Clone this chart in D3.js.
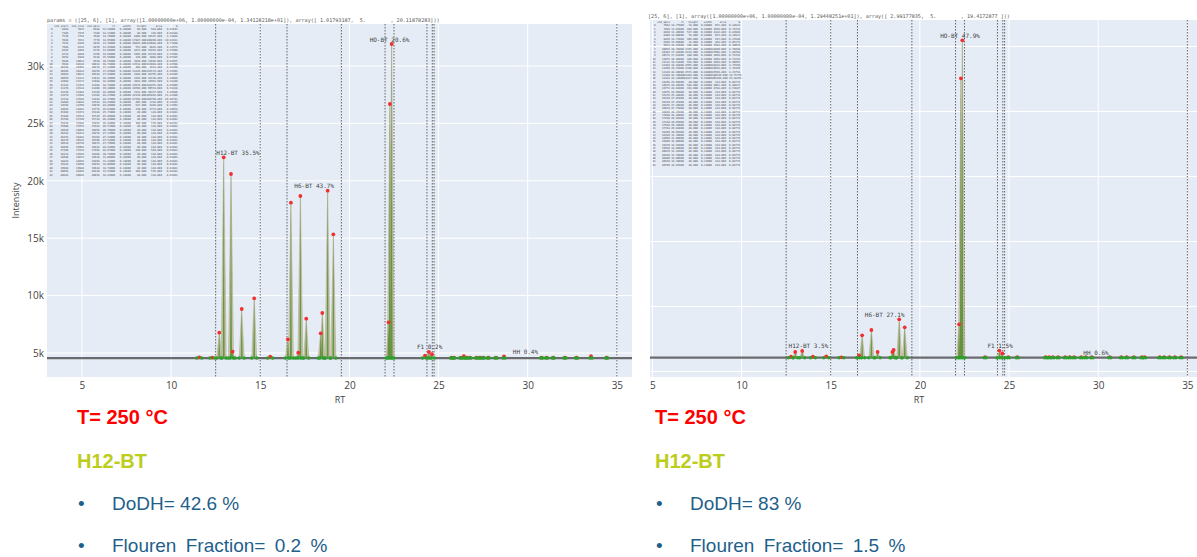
<!DOCTYPE html>
<html><head><meta charset="utf-8">
<script src="https://cdn.jsdelivr.net/npm/d3@7"></script>
<style>html,body{margin:0;padding:0;background:#fff;} svg{display:block;}</style>
</head><body>
<svg id="fig" width="1197" height="557"></svg>
<script>
// ---------- chromatogram data ----------
const rtTicks = [5, 10, 15, 20, 25, 30, 35];
const intensityTicks = [5000, 10000, 15000, 20000, 25000, 30000];
const intensityTickLabels = ["5k", "10k", "15k", "20k", "25k", "30k"];
const cutLines = [12.5, 15.0, 16.5, 19.55, 22.0, 22.5, 24.35, 24.65, 24.75, 35.0];
const groupNames = ["H12-BT", "H6-BT", "HO-BT", "F1", "HH"];
const groupFrom = [12.5, 16.5, 22.0, 24.35, 24.75];
const groupTo = [15.0, 19.55, 22.5, 24.65, 35.0];

// run A
const paramsA = "params = ([25, 6], [1], array([1.00000000e+06, 1.00000000e-04, 1.34128218e+01]), array([ 1.01793187,  5.        , 20.11878283]))";
const groupPctA = [35.5, 43.7, 20.6, 0.2, 0.4];
const baselineA = 4560;
const peakRtA = [11.58, 12.31, 12.70, 12.95, 13.36, 13.45, 13.96, 14.66, 15.56, 16.55, 16.72, 17.13, 17.25, 17.58,
  18.39, 18.48, 18.78, 19.10, 22.20, 22.27, 22.37, 24.24, 24.46, 24.63];
const peakHeightA = [4620, 4600, 6768, 22047, 20592, 5113, 8833, 9765, 4680, 6190, 18092, 5026, 18676, 7988,
  6716, 8484, 19138, 15340, 7674, 26690, 31916, 4765, 5087, 4890];
const tailRtA = [25.73, 25.86, 26.24, 26.42, 26.57, 26.76, 27.13, 27.32, 27.51, 27.79, 28.22, 28.67,
  30.78, 31.06, 31.43, 32.09, 32.74, 33.55, 34.43];
const tailHeightA = [4600, 4600, 4600, 4720, 4600, 4600, 4600, 4600, 4600, 4600, 4600, 4700,
  4600, 4600, 4600, 4600, 4600, 4720, 4600];

// run B
const paramsB = "[25, 6], [1], array([1.00000000e+06, 1.00000000e-04, 1.29448251e+01]), array([ 2.99177835,  5.        , 19.4172877 ]))";
const groupPctB = [3.5, 27.1, 47.9, 1.5, 0.6];
const baselineB = 6060;
const peakRtB = [12.77, 13.01, 13.40, 14.00, 14.75, 15.60, 16.59, 16.76, 17.28, 17.63, 18.46, 18.53, 18.84, 19.15,
  22.20, 22.30, 22.38, 24.46, 24.62];
const peakHeightB = [6138, 6500, 6577, 6138, 6169, 6092, 6246, 7785, 8192, 6500, 6500, 6654, 9015, 8400,
  8631, 27554, 30477, 6608, 6392];
const tailRtB = [23.66, 24.96, 25.46, 27.05, 27.25, 27.46, 27.75, 28.15, 28.40, 28.65, 29.05, 29.30, 29.64,
  30.65, 31.30, 31.60, 32.00, 32.45, 32.60, 33.45, 33.70, 34.00, 34.30, 34.65];
const tailHeightB = [6100, 6100, 6100, 6100, 6100, 6100, 6100, 6100, 6100, 6100, 6100, 6100, 6100,
  6100, 6100, 6100, 6100, 6100, 6100, 6100, 6100, 6100, 6100, 6100];

// summary text under each chromatogram
const tempLine = "T= 250 °C";
const sampleName = "H12-BT";
const dodhA = "DoDH= 42.6 %", dodhB = "DoDH= 83 %";
const flourenA = "Flouren Fraction= 0.2 %", flourenB = "Flouren Fraction= 1.5 %";

// ---------- drawing ----------
const svg = d3.select("#fig");
const MONO = "'DejaVu Sans Mono', 'Liberation Mono', monospace";
const SANS = "'Open Sans', 'Liberation Sans', Arial, sans-serif";
const ARIAL = "'Liberation Sans', Arial, sans-serif";

function panel(cfg) {
  const g = svg.append("g");
  const x = d3.scaleLinear().domain(cfg.xDomain).range([cfg.left, cfg.right]);
  const y = d3.scaleLinear().domain(cfg.yDomain).range([cfg.bottom, cfg.top]);

  // plot background + grid
  g.append("rect").attr("x", cfg.left).attr("y", cfg.top)
    .attr("width", cfg.right - cfg.left).attr("height", cfg.bottom - cfg.top).attr("fill", "#e5ecf6");
  const clipId = "clip" + cfg.id;
  g.append("clipPath").attr("id", clipId).append("rect")
    .attr("x", cfg.left).attr("y", cfg.top).attr("width", cfg.right - cfg.left).attr("height", cfg.bottom - cfg.top);
  const pg = g.append("g").attr("clip-path", `url(#${clipId})`);

  pg.selectAll(".vg").data(rtTicks).join("line")
    .attr("x1", d => x(d)).attr("x2", d => x(d)).attr("y1", cfg.top).attr("y2", cfg.bottom)
    .attr("stroke", "#fff").attr("stroke-width", 1);
  pg.selectAll(".hg").data(intensityTicks).join("line")
    .attr("x1", cfg.left).attr("x2", cfg.right).attr("y1", d => y(d)).attr("y2", d => y(d))
    .attr("stroke", "#fff").attr("stroke-width", 1);

  // x axis
  const xa = d3.axisBottom(x).tickValues(rtTicks).tickSize(0).tickPadding(0).tickFormat(d3.format("d"));
  const xg = g.append("g").attr("transform", `translate(0,${cfg.bottom + 12})`).call(xa);
  xg.select(".domain").remove();
  xg.selectAll("text").attr("font-family", SANS).attr("font-size", 10).attr("fill", "#444").attr("dy", "0");
  g.append("text").attr("x", cfg.rtLabelX).attr("y", cfg.bottom + 26)
    .attr("text-anchor", "middle").attr("font-family", SANS).attr("font-size", 9).attr("fill", "#444").text("RT");

  if (cfg.yAxis) {
    const ya = d3.axisLeft(y).tickValues(intensityTicks).tickSize(0).tickPadding(3)
      .tickFormat((d, i) => intensityTickLabels[i]);
    const yg = g.append("g").attr("transform", `translate(${cfg.left},0)`).call(ya);
    yg.select(".domain").remove();
    yg.selectAll("text").attr("font-family", SANS).attr("font-size", 10).attr("fill", "#444");
    g.append("text").attr("transform", `translate(19,${(cfg.top + cfg.bottom) / 2}) rotate(-90)`)
      .attr("text-anchor", "middle").attr("font-family", SANS).attr("font-size", 9).attr("fill", "#444").text("Intensity");
  }

  // fit parameters printed above the plot
  g.append("text").attr("x", cfg.paramsX).attr("y", cfg.paramsY)
    .attr("font-family", MONO).attr("font-size", 5.1).attr("fill", "#555").attr("xml:space", "preserve")
    .style("white-space", "pre").text(cfg.params);

  // peaks
  const peaks = cfg.rt.map((r, i) => ({ rt: r, h: cfg.h[i], hw: 0.14 }))
    .concat(cfg.tailRt.map((r, i) => ({ rt: r, h: cfg.tailH[i], hw: 0.06 })));
  const B = cfg.base;

  // peak table in the upper left corner of the plot
  const total = d3.sum(peaks, p => (p.h - B) * p.hw);
  const fmt = (v, w) => String(v).padStart(w, " ");
  const rows = [fmt("", 3) + cfg.cols.map(c => fmt(c, cfg.colW)).join("")];
  peaks.slice().sort((a, b) => a.rt - b.rt).forEach((p, i) => {
    const vals = {
      ind_start: Math.round((p.rt - p.hw) * 600), ind_stop: Math.round((p.rt + p.hw) * 600),
      ind_apex: Math.round(p.rt * 600), rt: p.rt.toFixed(5), width: (2 * p.hw).toFixed(5),
      height: (p.h - B).toFixed(3), area: ((p.h - B) * p.hw * 60).toFixed(3),
      "%": (100 * (p.h - B) * p.hw / total).toFixed(5)
    };
    rows.push(fmt(i, 3) + cfg.cols.map(c => fmt(vals[c], cfg.colW)).join(""));
  });
  const pitch = cfg.tableHeight / rows.length;
  const tg = pg.append("text").attr("font-family", MONO).attr("font-size", cfg.tableFont)
    .attr("fill", "#4a4a4a").attr("xml:space", "preserve").style("white-space", "pre");
  tg.selectAll("tspan").data(rows).join("tspan")
    .attr("x", cfg.left + 1).attr("y", (d, i) => cfg.top + 3 + i * pitch).text(d => d);

  // cut lines between compound groups
  pg.selectAll(".cut").data(cutLines).join("line")
    .attr("x1", d => x(d)).attr("x2", d => x(d)).attr("y1", cfg.top).attr("y2", cfg.bottom)
    .attr("stroke", "#555").attr("stroke-width", 0.9).attr("stroke-dasharray", "1.5,1.5");

  // baseline
  pg.append("line").attr("x1", cfg.left).attr("x2", cfg.right).attr("y1", y(B)).attr("y2", y(B))
    .attr("stroke", "#555").attr("stroke-opacity", 0.85).attr("stroke-width", 2.2);

  // peak areas and apex traces
  pg.selectAll(".pk").data(peaks).join("path")
    .attr("d", p => `M${x(p.rt - p.hw)},${y(B)}L${x(p.rt)},${y(p.h)}L${x(p.rt + p.hw)},${y(B)}Z`)
    .attr("fill", "#c2bb95").attr("fill-opacity", 0.75).attr("stroke", "#a9a27a").attr("stroke-width", 0.5);
  pg.selectAll(".pc").data(peaks).join("path")
    .attr("d", p => `M${x(p.rt - p.hw * 0.4)},${y(B)}L${x(p.rt)},${y(p.h)}L${x(p.rt + p.hw * 0.4)},${y(B)}Z`)
    .attr("fill", "#4f8a2e").attr("fill-opacity", 0.8);

  // apex markers (red) and start/end markers (green)
  pg.selectAll(".ap").data(peaks).join("circle")
    .attr("cx", p => x(p.rt)).attr("cy", p => y(p.h)).attr("r", 1.9).attr("fill", "#f03030");
  const ends = peaks.flatMap(p => [p.rt - p.hw, p.rt + p.hw]);
  pg.selectAll(".en").data(ends).join("circle")
    .attr("cx", d => x(d)).attr("cy", y(B)).attr("r", 1.7).attr("fill", "#2ca02c");

  // group labels
  cfg.pct.forEach((pc, i) => {
    const inGroup = peaks.filter(p => p.rt >= groupFrom[i] && p.rt <= groupTo[i]);
    const top = d3.max(inGroup, p => p.h);
    pg.append("text").attr("x", x((groupFrom[i] + groupTo[i]) / 2)).attr("y", y(top) - 2.5)
      .attr("text-anchor", "middle").attr("font-family", MONO).attr("font-size", 6).attr("fill", "#444")
      .text(`${groupNames[i]} ${pc}%`);
  });

  // summary text
  const tx = cfg.textX;
  g.append("text").attr("x", tx).attr("y", 424).attr("font-family", ARIAL)
    .attr("font-weight", "bold").attr("font-size", 20).attr("fill", "#ff0000").text(tempLine);
  g.append("text").attr("x", tx).attr("y", 468).attr("font-family", ARIAL)
    .attr("font-weight", "bold").attr("font-size", 20).attr("fill", "#bccd1c").text(sampleName);
  [[cfg.dodh, 510, 0], [cfg.flouren, 552, 4]].forEach(([t, yy, ws]) => {
    g.append("text").attr("x", tx + 1).attr("y", yy).attr("font-family", ARIAL)
      .attr("font-size", 19).attr("fill", "#1f5f8b").text("•");
    g.append("text").attr("x", tx + 35).attr("y", yy).attr("font-family", ARIAL)
      .attr("font-size", 19).attr("fill", "#1f5f8b").attr("word-spacing", ws).text(t);
  });
}

panel({
  id: "A", left: 47, right: 632, top: 24, bottom: 377,
  xDomain: [3.04, 35.85], rtLabelX: 340, yDomain: [2909, 33659], yAxis: true,
  params: paramsA, paramsX: 47, paramsY: 22, rt: peakRtA, h: peakHeightA, tailRt: tailRtA, tailH: tailHeightA,
  base: baselineA, pct: groupPctA,
  cols: ["ind_start", "ind_stop", "ind_apex", "rt", "width", "height", "area", "%"], colW: 10,
  tableFont: 2.6, tableHeight: 152,
  textX: 77, dodh: dodhA, flouren: flourenA
});

panel({
  id: "B", left: 650, right: 1197, top: 20, bottom: 377,
  xDomain: [4.865, 35.54], rtLabelX: 919, yDomain: [4577, 32038], yAxis: false,
  params: paramsB, paramsX: 648, paramsY: 17.5, rt: peakRtB, h: peakHeightB, tailRt: tailRtB, tailH: tailHeightB,
  base: baselineB, pct: groupPctB,
  cols: ["ind_apex", "rt", "height", "width", "area", "%"], colW: 9,
  tableFont: 2.6, tableHeight: 146,
  textX: 655, dodh: dodhB, flouren: flourenB
});
</script>
</body></html>
